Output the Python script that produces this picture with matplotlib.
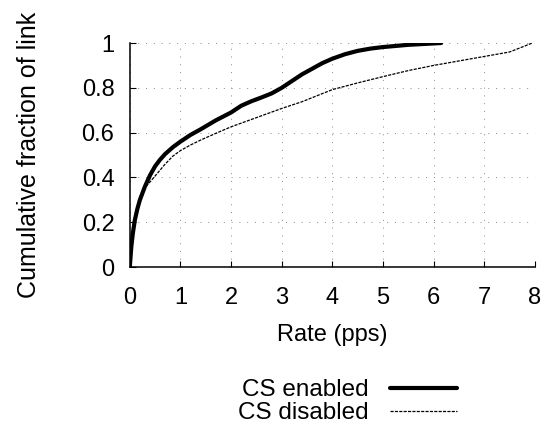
import matplotlib
matplotlib.use("Agg")
import matplotlib.pyplot as plt

plt.rcParams['font.family'] = ['Liberation Sans', 'DejaVu Sans']

# CDF of per-link rate
enabled_rate = [0, 0.01, 0.03, 0.06, 0.1, 0.15, 0.2, 0.3, 0.4, 0.5, 0.6, 0.7, 0.85, 1.0,
                1.2, 1.4, 1.7, 2.0, 2.2, 2.4, 2.6, 2.8, 3.0, 3.2, 3.4, 3.6, 3.8, 4.0,
                4.25, 4.5, 4.75, 5.0, 5.5, 6.15]
enabled_frac = [0, 0.03, 0.09, 0.15, 0.21, 0.26, 0.30, 0.36, 0.41, 0.45, 0.48, 0.505, 0.535,
                0.56, 0.59, 0.615, 0.655, 0.69, 0.72, 0.74, 0.757, 0.775, 0.80, 0.83, 0.86,
                0.885, 0.91, 0.93, 0.95, 0.965, 0.975, 0.982, 0.992, 1.0]

disabled_rate = [0, 0.01, 0.03, 0.06, 0.1, 0.15, 0.2, 0.3, 0.4, 0.55, 0.7, 0.85, 1.0, 1.2,
                 1.4, 1.7, 2.0, 2.5, 3.0, 3.4, 3.7, 4.0, 4.5, 5.0, 5.5, 6.0, 6.5, 7.0,
                 7.5, 7.95]
disabled_frac = [0, 0.03, 0.09, 0.15, 0.21, 0.26, 0.30, 0.355, 0.38, 0.42, 0.46, 0.495, 0.52,
                 0.545, 0.567, 0.597, 0.626, 0.667, 0.708, 0.738, 0.765, 0.792, 0.822, 0.85,
                 0.877, 0.90, 0.92, 0.94, 0.96, 1.0]

x_ticks = [0, 1, 2, 3, 4, 5, 6, 7, 8]
y_ticks = [0, 0.2, 0.4, 0.6, 0.8, 1]
y_tick_labels = ["0", "0.2", "0.4", "0.6", "0.8", "1"]

fig = plt.figure(figsize=(5.43, 4.26), dpi=100)
ax = fig.add_axes([0.239, 0.373, 0.746, 0.526])

ax.plot(enabled_rate, enabled_frac, color='black', lw=3.0, label='CS enabled',
        solid_capstyle='round', solid_joinstyle='round')
ax.plot(disabled_rate, disabled_frac, color='black', lw=0.9, linestyle=(0, (2.5, 1)),
        label='CS disabled')

ax.set_xlim(0, 8)
ax.set_ylim(0, 1)
ax.set_xticks(x_ticks)
ax.set_yticks(y_ticks)
ax.set_yticklabels(y_tick_labels)
ax.tick_params(direction='in', length=4, width=0.8, labelsize=17)
ax.tick_params(axis='x', pad=14)
ax.tick_params(axis='y', pad=11)
ax.grid(True, color='#888888', linestyle=(0, (1, 7)), lw=0.7)

for side in ('top', 'right'):
    ax.spines[side].set_visible(False)
for side in ('left', 'bottom'):
    ax.spines[side].set_linewidth(1.1)

ax.set_xlabel('Rate (pps)', fontsize=17, labelpad=11)
ax.set_ylabel('Cumulative fraction of link', fontsize=18, labelpad=29)

fig.legend(loc='center', bbox_to_anchor=(0.64, 0.057), frameon=False, fontsize=17.5,
           markerfirst=False, handlelength=2.75, handletextpad=0.87, labelspacing=0.03,
           borderpad=0, borderaxespad=0)

fig.savefig('out.png', dpi=100)
